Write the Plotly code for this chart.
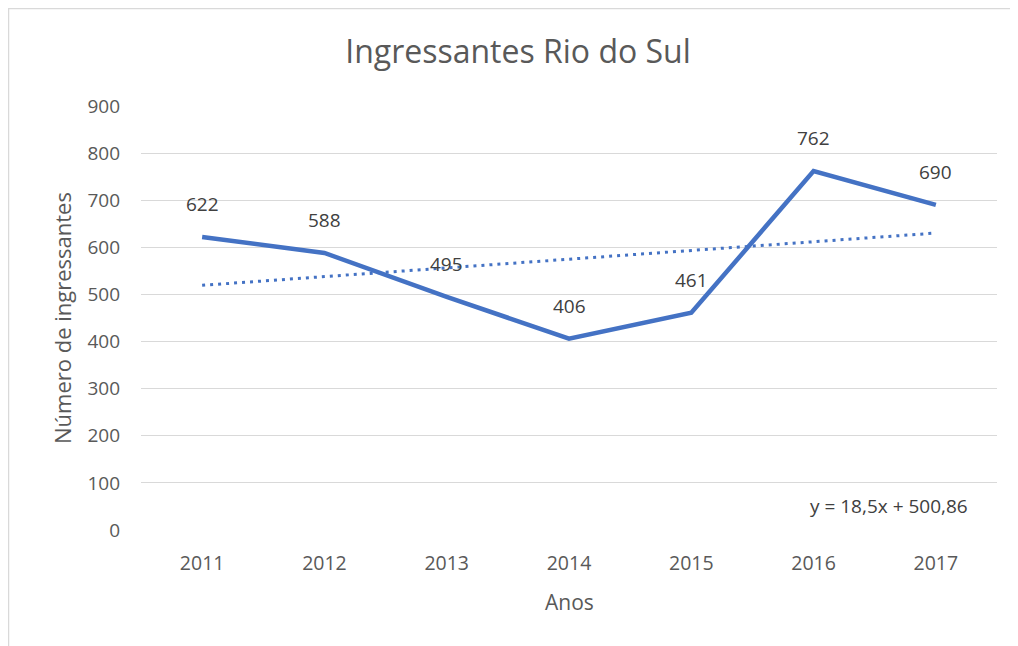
import numpy as np
import plotly.graph_objects as go

years = ["2011", "2012", "2013", "2014", "2015", "2016", "2017"]
ingressantes = [622, 588, 495, 406, 461, 762, 690]
y_ticks = [0, 100, 200, 300, 400, 500, 600, 700, 800, 900]

xs = np.arange(1, len(years) + 1)
slope, intercept = np.polyfit(xs, ingressantes, 1)
trend = slope * xs + intercept
eq_text = "y = {:.1f}x + {:.2f}".format(slope, intercept).replace(".", ",")

FONT = "'Open Sans', Calibri, Carlito, sans-serif"
TXT = "#595959"

# page has an 8px body margin; figure is sized to the remaining area
W, H = 1010, 638
L, T, R, B = 133, 98, 21, 116
PW, PH = W - L - R, H - T - B

fig = go.Figure()
fig.add_trace(go.Scatter(x=years, y=ingressantes, mode="lines",
                         line=dict(color="#4472C4", width=4.5), hoverinfo="skip",
                         showlegend=False))
fig.add_trace(go.Scatter(x=years, y=trend, mode="lines",
                         line=dict(color="#4472C4", width=3, dash="3px,5px"),
                         hoverinfo="skip", showlegend=False))

annotations = []
for i, v in enumerate(ingressantes):
    annotations.append(dict(x=i, y=v, xref="x", yref="y", text=str(v), showarrow=False,
                            yshift=33, font=dict(family=FONT, size=19, color="#404040")))
annotations.append(dict(x=(889 - 8 - L) / PW, y=(522 - 498) / PH, xref="paper", yref="paper",
                        xanchor="center", yanchor="middle", text=eq_text, showarrow=False,
                        font=dict(family=FONT, size=19, color="#404040")))
annotations.append(dict(x=0.5, y=(522 - 594) / PH, xref="paper", yref="paper",
                        xanchor="center", yanchor="middle",
                        text="Anos", showarrow=False,
                        font=dict(family=FONT, size=21, color=TXT)))
annotations.append(dict(x=(62 - 8 - L) / PW, y=0.5, xref="paper", yref="paper", xanchor="center",
                        yanchor="middle", textangle=-90, text="Número de ingressantes",
                        showarrow=False, font=dict(family=FONT, size=22, color=TXT)))

fig.update_layout(
    width=W, height=H,
    margin=dict(l=L, r=R, t=T, b=B),
    paper_bgcolor="white", plot_bgcolor="white",
    title=dict(text="Ingressantes Rio do Sul", x=(518 - 8) / W, xanchor="center",
               y=1 - 44 / H, yanchor="middle", yref="container",
               font=dict(family=FONT, size=32, color=TXT)),
    xaxis=dict(type="category", range=[-0.5, 6.5], showgrid=False, zeroline=False,
               showline=False, ticks="", ticklabelstandoff=19,
               tickfont=dict(family=FONT, size=19.5, color=TXT)),
    yaxis=dict(range=[0, 900], tickvals=y_ticks, showgrid=True, gridcolor="#D9D9D9",
               gridwidth=1.3, zeroline=False, showline=False, ticks="",
               ticklabelstandoff=20,
               tickfont=dict(family=FONT, size=19, color=TXT)),
    annotations=annotations,
    shapes=[dict(type="rect", xref="paper", yref="paper",
                 x0=(0.5 - L) / PW, x1=1.2, y0=-0.4, y1=(PH + T - 0.5) / PH,
                 line=dict(color="#D9D9D9", width=1.5), fillcolor="rgba(0,0,0,0)",
                 layer="below")],
    showlegend=False,
)

fig.write_html("out.html")
